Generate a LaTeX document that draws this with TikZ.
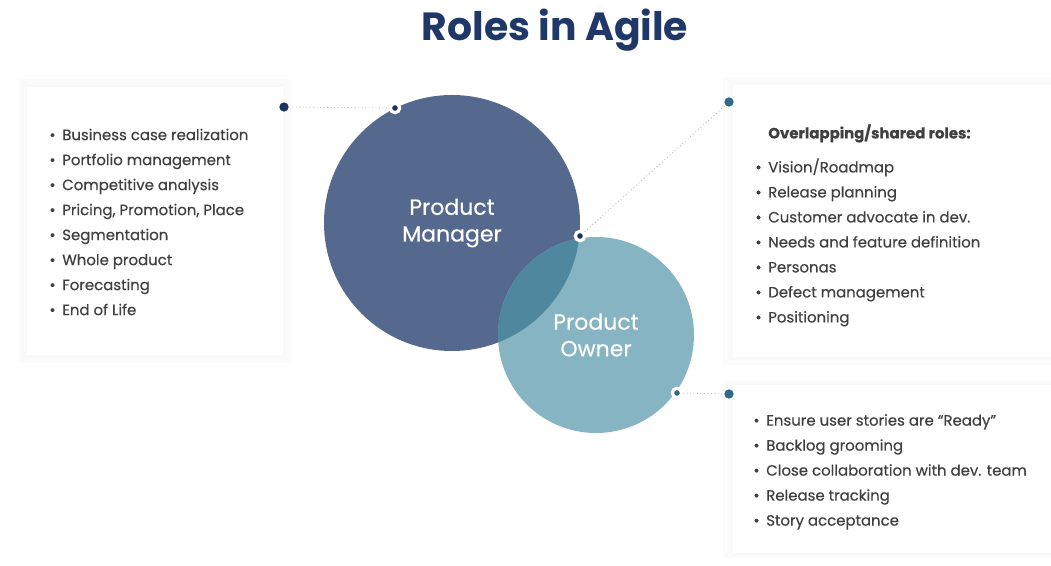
\documentclass[tikz,border=0pt]{standalone}
\usepackage{fontspec}
\setmainfont{Poppins}
\newfontfamily\mediumfont{Poppins}[FakeBold=0.35]
\usetikzlibrary{positioning}
\usetikzlibrary{shadows}
\definecolor{titlenavy}{HTML}{1F3868}
\definecolor{pmblue}{HTML}{55698F}
\definecolor{poteal}{HTML}{86B4C3}
\definecolor{shared}{HTML}{4F889E}
\definecolor{listgrey}{HTML}{404040}
\definecolor{pinnavy}{HTML}{1B355E}
\definecolor{pinteal}{HTML}{2F6A88}
\newcommand{\li}[1]{\llap{\textbullet\hspace{5pt}}#1}
\tikzset{%
  panel/.style = {rectangle,fill=white,inner sep=0pt,
        general shadow={fill=black!1.5,shadow scale=1.06},
        general shadow={fill=black!2,shadow scale=1.04},
        general shadow={fill=black!2.5,shadow scale=1.02}},
  role/.style = {circle,inner sep=0pt,text=white,align=center,
        font=\mediumfont\fontsize{16.5}{20}\selectfont},
  items/.style = {align=left,text=listgrey,inner sep=0pt,anchor=north west,
        font=\mediumfont\fontsize{11.2}{18.75}\selectfont},
  pin/.style = {circle,fill=pinnavy,inner sep=0pt,minimum size=7pt},
  ringpin/.style = {pin,draw=white,line width=2.4pt},
  link/.style = {dotted,draw=gray!60,line width=.6pt}
}

\begin{document}
\begin{tikzpicture}[x=0.75pt,y=-0.75pt]
  \useasboundingbox[fill=white] (0,0) rectangle (1051,566);
  \node[font=\bfseries\fontsize{29.5}{34}\selectfont,text=titlenavy] (title) at (555,30) {Roles in Agile};
  % panels
  \node[panel,minimum width=192pt,minimum height=201pt] (left) at (155,221) {};
  \node[panel,minimum width=238.5pt,minimum height=204pt] (shared) at (892,221) {};
  \node[panel,minimum width=238.5pt,minimum height=126pt] (po list) at (892,469) {};
  % circles
  \node[role,fill=pmblue,minimum size=192pt] (pm) at (452,223) {Product\\Manager};
  \node[role,fill=poteal,minimum size=147pt] (po) at (596,335) {Product\\Owner};
  \begin{scope}
    \clip (po.center) circle[radius=73.5pt];
    \fill[shared] (pm.center) circle[radius=96pt];
  \end{scope}
  % lists
  \node[items] (pm items) at (62,128.5) {\li{Business case realization}\\
    \li{Portfolio management}\\ \li{Competitive analysis}\\
    \li{Pricing, Promotion, Place}\\ \li{Segmentation}\\
    \li{Whole product}\\ \li{Forecasting}\\ \li{End of Life}};
  \node[items] (shared items) at (768,124) {\textbf{Overlapping/shared roles:}\\[6.75pt]
    \li{Vision/Roadmap}\\ \li{Release planning}\\
    \li{Customer advocate in dev.}\\ \li{Needs and feature definition}\\
    \li{Personas}\\ \li{Defect management}\\ \li{Positioning}};
  \node[items] (po items) at (766,414) {\li{Ensure user stories are “Ready”}\\
    \li{Backlog grooming}\\ \li{Close collaboration with dev. team}\\
    \li{Release tracking}\\ \li{Story acceptance}};
  % pins and links
  \node[pin] (pin a) at (284,107) {};
  \node[ringpin] (pin b) at (395,108) {};
  \node[ringpin] (pin c) at (580,236) {};
  \node[pin,fill=pinteal] (pin d) at (729,102) {};
  \node[ringpin,fill=pinteal] (pin e) at (677,393) {};
  \node[pin,fill=pinteal] (pin f) at (729,394) {};
  \draw[link] (pin a) -- (pin b);
  \draw[link] (pin c) -- (pin d);
  \draw[link] (pin e) -- (pin f);
\end{tikzpicture}
\end{document}
